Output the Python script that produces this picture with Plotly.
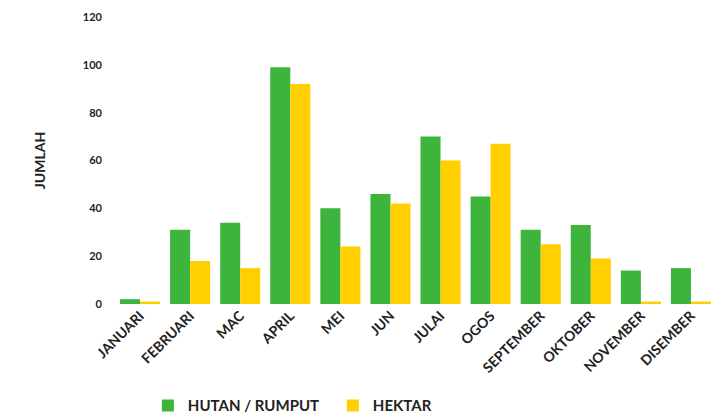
import plotly.graph_objects as go

months = ["JANUARI", "FEBRUARI", "MAC", "APRIL", "MEI", "JUN", "JULAI", "OGOS",
          "SEPTEMBER", "OKTOBER", "NOVEMBER", "DISEMBER"]
hutan = [2, 31, 34, 99, 40, 46, 70, 45, 31, 33, 14, 15]
hektar = [1, 18, 15, 92, 24, 42, 60, 67, 25, 19, 1, 1]
y_ticks = [0, 20, 40, 60, 80, 100, 120]

font_family = "Lato, 'Open Sans', sans-serif"

fig = go.Figure()
fig.add_trace(go.Bar(x=months, y=hutan, name="HUTAN / RUMPUT", marker_color="#3DB53D",
                     marker_line_width=0))
fig.add_trace(go.Bar(x=months, y=hektar, name="HEKTAR", marker_color="#FFCF00",
                     marker_line_width=0))

# page body has an 8px margin, so the figure is sized/offset accordingly
fig.update_layout(
    width=714, height=410,
    margin=dict(l=107, r=6, t=9, b=114, autoexpand=False),
    paper_bgcolor="white", plot_bgcolor="white",
    barmode="group", bargap=0.2, bargroupgap=0,
    font=dict(family=font_family, color="#222222"),
    showlegend=True,
    legend=dict(orientation="h", xref="container", yref="container",
                x=0.455, xanchor="center", y=0.03, yanchor="middle",
                font=dict(size=15, family=font_family, weight="bold", color="#222222"),
                itemwidth=30, entrywidth=140, traceorder="normal"),
)
fig.update_xaxes(tickangle=-45, showgrid=False, showline=False, ticks="", automargin=False,
                 tickfont=dict(size=14, weight="bold", color="#222222"))
fig.update_yaxes(range=[0, 120], tickvals=y_ticks, showgrid=False, zeroline=False,
                 showline=False, ticks="", automargin=False, ticklabelstandoff=12,
                 tickfont=dict(size=11, weight="bold", color="#222222"),
                 title=dict(text="JUMLAH", font=dict(size=14, weight="bold", color="#222222"),
                            standoff=33))

fig.write_html("out.html")
